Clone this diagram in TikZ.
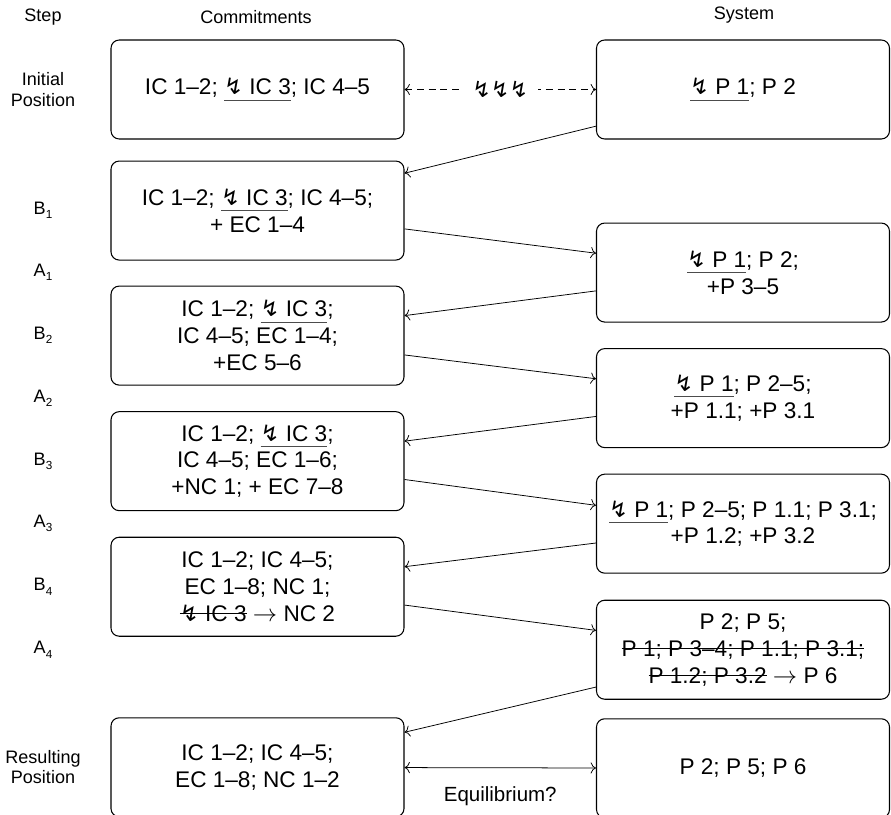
\documentclass[tikz,border=0pt]{standalone}
\usepackage{fontspec}
\setmainfont{Liberation Sans}
\newfontfamily\zapfont{DejaVu Sans}
\usetikzlibrary{positioning,arrows.meta}
\newcommand\zap{{\zapfont ↯}}
\newcommand\lowsub[1]{\raisebox{-0.45ex}{\fontsize{10}{12}\selectfont #1}}
\newlength\marklen
\newcommand\uln[1]{\settowidth\marklen{#1}\rlap{\color{black!70}\rule[-0.25em]{\marklen}{0.6pt}}#1}
\newcommand\strike[1]{\settowidth\marklen{#1}\rlap{\rule[0.33em]{\marklen}{0.7pt}}#1}
\tikzset{
  stage/.style={draw, rounded corners=7pt, line width=0.9pt, minimum width=8.79cm, minimum height=2.97cm, align=center, inner sep=2pt, font=\fontsize{19.3}{23}\selectfont},
  steplabel/.style={align=center, font=\fontsize{15.4}{17.5}\selectfont},
  conn/.style={-{To[scale=1.5]}, line width=0.65pt},
  dashconn/.style={{To[scale=1.5]}-{To[scale=1.5]}, line width=0.65pt, dash pattern=on 6pt off 4pt}
}

\begin{document}
\begin{tikzpicture}
\useasboundingbox (0,0) rectangle (26.73,-24.42);
\node[steplabel] (step) at (1.29,-0.51) {Step};
\node[steplabel] (commit) at (7.68,-0.51) {Commitments};
\node[steplabel] (system) at (22.32,-0.45) {System};

% commitments
\node[stage] (c0) at (7.725,-2.685) {IC 1–2; \uln{\zap{} IC 3}; IC 4–5};
\node[stage, below=0.63cm of c0] (c1) {IC 1–2; \uln{\zap{} IC 3}; IC 4–5;\\+ EC 1–4};
\node[stage, below=0.75cm of c1] (c2) {IC 1–2; \uln{\zap{} IC 3};\\IC 4–5; EC 1–4;\\+EC 5–6};
\node[stage, below=0.765cm of c2] (c3) {IC 1–2; \uln{\zap{} IC 3};\\IC 4–5; EC 1–6;\\+NC 1; + EC 7–8};
\node[stage, below=0.765cm of c3] (c4) {IC 1–2; IC 4–5;\\EC 1–8; NC 1;\\\strike{\zap{} IC 3} $\rightarrow$ NC 2};
\node[stage, below=2.415cm of c4] (c5) {IC 1–2; IC 4–5;\\EC 1–8; NC 1–2};

% system
\node[stage] (s0) at (22.29,-2.685) {\uln{\zap{} P 1}; P 2};
\node[stage, below=2.49cm of s0] (s1) {\uln{\zap{} P 1}; P 2;\\+P 3–5};
\node[stage, below=0.765cm of s1] (s2) {\uln{\zap{} P 1}; P 2–5;\\+P 1.1; +P 3.1};
\node[stage, below=0.765cm of s2] (s3) {\uln{\zap{} P 1}; P 2–5; P 1.1; P 3.1;\\+P 1.2; +P 3.2};
\node[stage, below=0.78cm of s3] (s4) {P 2; P 5;\\\strike{P 1; P 3–4; P 1.1; P 3.1;}\\\strike{P 1.2; P 3.2} $\rightarrow$ P 6};
\node[stage, below=0.555cm of s4] (s5) {P 2; P 5; P 6};

% steps
\node[steplabel] (init) at (c0 -| step) {Initial\\Position};
\node[steplabel] (b1) at (c1 -| step) {B\lowsub{1}};
\node[steplabel] (a1) at (s1 -| step) {A\lowsub{1}};
\node[steplabel] (b2) at (c2 -| step) {B\lowsub{2}};
\node[steplabel] (a2) at (s2 -| step) {A\lowsub{2}};
\node[steplabel] (b3) at (c3 -| step) {B\lowsub{3}};
\node[steplabel] (a3) at (s3 -| step) {A\lowsub{3}};
\node[steplabel] (b4) at (c4 -| step) {B\lowsub{4}};
\node[steplabel] (a4) at (s4 -| step) {A\lowsub{4}};
\node[steplabel] (result) at (c5 -| step) {Resulting\\Position};

\draw[dashconn] (c0) -- node[fill=white, inner xsep=8pt, font=\fontsize{19}{22}\selectfont] (zaps) {\zap\zap\zap} (s0);

\draw[conn] ([yshift=-1.1cm]s0.west) -- ([yshift=1.12cm]c1.east);
\draw[conn] ([yshift=-0.55cm]c1.east) -- ([yshift=0.58cm]s1.west);
\draw[conn] ([yshift=-0.55cm]s1.west) -- ([yshift=0.6cm]c2.east);
\draw[conn] ([yshift=-0.58cm]c2.east) -- ([yshift=0.58cm]s2.west);
\draw[conn] ([yshift=-0.55cm]s2.west) -- ([yshift=0.6cm]c3.east);
\draw[conn] ([yshift=-0.55cm]c3.east) -- ([yshift=0.55cm]s3.west);
\draw[conn] ([yshift=-0.58cm]s3.west) -- ([yshift=0.6cm]c4.east);
\draw[conn] ([yshift=-0.55cm]c4.east) -- ([yshift=0.58cm]s4.west);
\draw[conn] ([yshift=-1.12cm]s4.west) -- ([yshift=1.05cm]c5.east);

\draw[conn, {To[scale=1.5]}-{To[scale=1.5]}] (c5) -- node[below=0.45cm, font=\fontsize{17.5}{20}\selectfont] (equi) {Equilibrium?} (s5);
\end{tikzpicture}
\end{document}
